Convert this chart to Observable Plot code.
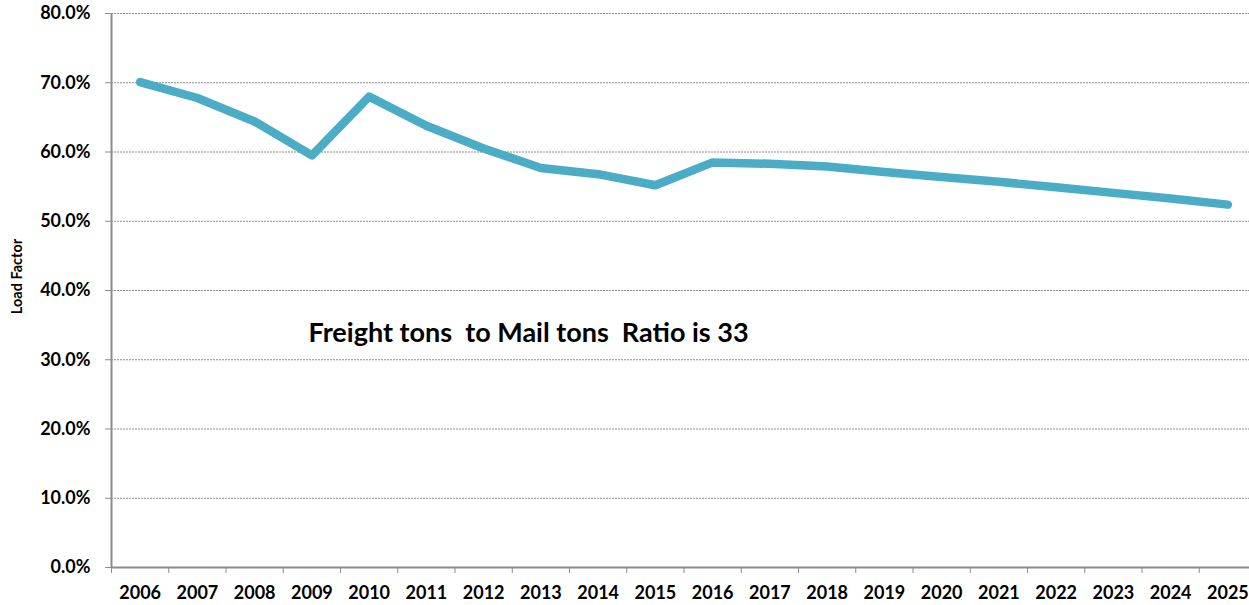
<!DOCTYPE html>
<html>
<head>
<meta charset="utf-8">
<script src="https://cdn.jsdelivr.net/npm/d3@7"></script>
<script src="https://cdn.jsdelivr.net/npm/@observablehq/plot@0.6"></script>
<style>
  html, body { margin: 0; padding: 0; background: #fff; overflow: hidden; }
  #chart svg { max-width: none !important; }
</style>
</head>
<body>
<div id="chart"></div>
<script>
const years = [2006, 2007, 2008, 2009, 2010, 2011, 2012, 2013, 2014, 2015, 2016, 2017, 2018, 2019, 2020, 2021, 2022, 2023, 2024, 2025];
const loadFactor = [70.1, 67.8, 64.4, 59.5, 68.0, 63.8, 60.5, 57.7, 56.8, 55.2, 58.5, 58.3, 57.9, 57.1, 56.4, 55.7, 54.9, 54.1, 53.3, 52.4];
const yTicks = [0, 10, 20, 30, 40, 50, 60, 70, 80];
const yLabel = "Load Factor";
const note = "Freight tons  to Mail tons  Ratio is 33";

const data = years.map((year, i) => ({year, value: loadFactor[i]}));
const xDomain = [years[0] - 0.5, years[years.length - 1] + 0.5];
const boundaries = d3.range(years.length + 1).map(i => years[0] - 0.5 + i);

const chart = Plot.plot({
  width: 1249,
  height: 605,
  marginLeft: 111,
  marginTop: 13,
  marginBottom: 38,
  marginRight: 0,
  style: {fontFamily: "Lato", fontWeight: "bold", color: "#000", background: "#fff", overflow: "hidden"},
  x: {type: "linear", domain: xDomain, range: [111, 1256]},
  y: {domain: [0, 80]},
  marks: [
    Plot.gridY(yTicks, {stroke: "#8c8c8c", strokeOpacity: 1, strokeDasharray: "2,1", strokeWidth: 1}),
    Plot.axisY(yTicks, {label: null, tickSize: 6, tickPadding: 15, fontSize: 18, stroke: "#8c8c8c", tickFormat: d => d.toFixed(1) + "%"}),
    Plot.axisX(boundaries, {label: null, tickSize: 6, tickFormat: () => "", stroke: "#8c8c8c"}),
    Plot.axisX(years, {label: null, tickSize: 0, tickPadding: 19, fontSize: 18, tickFormat: d => String(d)}),
    Plot.ruleX([xDomain[0]], {stroke: "#8c8c8c", strokeWidth: 2}),
    Plot.ruleY([0], {stroke: "#8c8c8c", strokeWidth: 2}),
    Plot.line(data, {x: "year", y: "value", stroke: "#4BACC6", strokeWidth: 8.5, strokeLinecap: "round", strokeLinejoin: "round"}),
    Plot.text([note], {frameAnchor: "top-left", text: d => d, textAnchor: "start", lineAnchor: "middle", dx: 197, dy: 320, fontSize: 27, fill: "#000"}),
    Plot.text([yLabel], {frameAnchor: "left", text: d => d, textAnchor: "middle", rotate: -90, dx: -94, dy: -14, fontSize: 14.5, fill: "#000"})
  ]
});
document.getElementById("chart").append(chart);
</script>
</body>
</html>
